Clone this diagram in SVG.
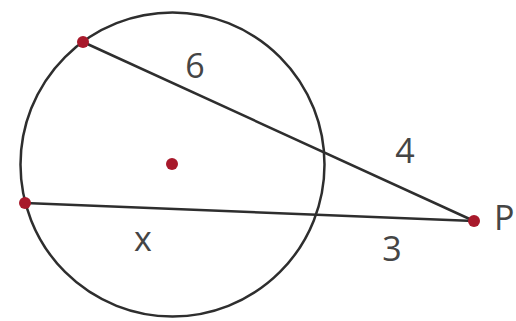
<svg xmlns="http://www.w3.org/2000/svg" width="516" height="321" viewBox="0 0 516 321">
<style>
.ln{stroke:#2e2e2e;stroke-width:2.5;fill:none}
.dot{fill:#a8192b}
.lbl{font-family:"Open Sans","Noto Sans","DejaVu Sans",sans-serif;font-size:34px;fill:#454545;text-anchor:middle}
</style>
<rect width="516" height="321" fill="#fff"/>
<g id="circle"><circle class="ln" cx="172.5" cy="164.5" r="152"/></g>
<g id="connectors">
<line class="ln" x1="83" y1="42" x2="474" y2="221"/>
<line class="ln" x1="25" y1="203" x2="474" y2="221"/>
</g>
<g id="pointA"><circle class="dot" cx="83" cy="42" r="6"/></g>
<g id="pointB"><circle class="dot" cx="25" cy="203" r="6"/></g>
<g id="center"><circle class="dot" cx="172" cy="164" r="6"/></g>
<g id="pointP"><circle class="dot" cx="474" cy="221" r="6"/><text class="lbl" x="494" y="230" style="text-anchor:start">P</text></g>
<g id="labels">
<text class="lbl" x="195" y="78">6</text>
<text class="lbl" x="405" y="163">4</text>
<text class="lbl" x="392" y="261">3</text>
<text class="lbl" x="143" y="251">x</text>
</g>
</svg>
